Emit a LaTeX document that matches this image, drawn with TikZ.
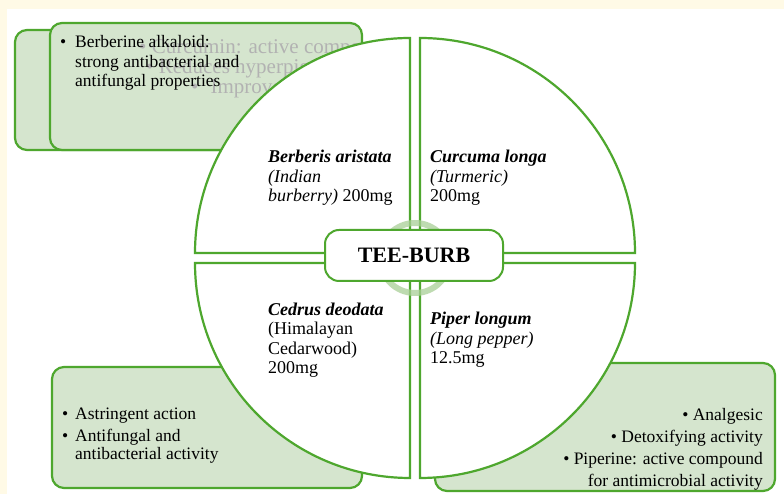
\documentclass[tikz,border=0pt]{standalone}
\usepackage{fontspec}
\setmainfont{Liberation Serif}
\definecolor{cream}{HTML}{FFFAE6}
\definecolor{gr}{HTML}{4EA72E}
\definecolor{lg}{HTML}{D5E5CE}
\definecolor{ringc}{HTML}{A9CF97}
\tikzset{
  gline/.style={draw=gr, line width=2.2pt},
  boxfill/.style={gline, fill=lg, rounded corners=12pt},
  quad/.style={gline, fill=white},
  lbl/.style={font=\fontsize{18}{19.5}\selectfont, align=left, inner sep=0pt, anchor=base west},
  txt/.style={font=\fontsize{17.5}{19.5}\selectfont, align=left, inner sep=0pt, anchor=base west},
  ghost/.style={font=\fontsize{21}{24}\selectfont, text=black!30, inner sep=0pt, anchor=base west}
}
\begin{document}
\begin{tikzpicture}[x=1pt,y=1pt]
\fill[cream] (0,0) rectangle (784,494);
\fill[white] (7,0) rectangle (784,485);
\useasboundingbox (0,0) rectangle (784,494);
% side boxes
\draw[boxfill] (15,344) rectangle (300,464);
\draw[boxfill] (50,344) rectangle (362,471);
\draw[boxfill] (52,6) rectangle (362,127);
\draw[boxfill] (435,3) rectangle (775,131);
% faint text behind the top-left box
\begin{scope}
\clip[rounded corners=12pt] (51,345) rectangle (361,470);
\node[ghost] (g1) at (139,440) {\textbullet\ Curcumin: active compound};
\node[ghost] (g2) at (146,420) {\textbullet\ Reduces hyperpigmentation};
\node[ghost] (g3) at (191,400) {\textbullet\hspace{12pt}Improves skin};
\end{scope}
% quadrants
\draw[quad] (410,241) -- (195,241) arc[start angle=180,end angle=90,radius=215] -- cycle;
\draw[quad] (420,241) -- (420,456) arc[start angle=90,end angle=0,radius=215] -- cycle;
\draw[quad] (410,231) -- (410,16) arc[start angle=270,end angle=180,radius=215] -- cycle;
\draw[quad] (420,231) -- (635,231) arc[start angle=0,end angle=-90,radius=215] -- cycle;
% ring and centre
\draw[ringc, line width=6pt, opacity=0.75] (415,236) circle[radius=35];
\node[draw=gr, line width=2pt, fill=white, rounded corners=14pt, minimum width=178pt, minimum height=51pt,
  font=\bfseries\fontsize{22}{24}\selectfont] (tee) at (414,238.5) {TEE-BURB};
% quadrant labels (anchored at the baseline of their last line)
\node[lbl] (qtl) at (268,292) {\textbf{\textit{Berberis aristata}}\\\textit{(Indian}\\\textit{burberry)} 200mg};
\node[lbl] (qtr) at (430,292) {\textbf{\textit{Curcuma longa}}\\\textit{(Turmeric)}\\200mg};
\node[lbl] (qbl) at (268,120) {\textbf{\textit{Cedrus deodata}}\\(Himalayan\\Cedarwood)\\200mg};
\node[lbl] (qbr) at (430,130) {\textbf{\textit{Piper longum}}\\\textit{(Long pepper)}\\12.5mg};
% box texts
\node[txt] (tlb) at (60,446) {\textbullet};
\node[txt] (tlt) at (75,407) {Berberine alkaloid:\\strong antibacterial and\\antifungal properties};
\node[txt] (blb1) at (62,74) {\textbullet};
\node[txt] (blt1) at (75,74) {Astringent action};
\node[txt] (blb2) at (62,52) {\textbullet};
\node[txt, font=\fontsize{17.5}{18.5}\selectfont] (blt2) at (75,34) {Antifungal and\\antibacterial activity};
\node[txt, align=right, anchor=base east, font=\fontsize{17.5}{22}\selectfont] (brt) at (763,7)
  {\textbullet\ Analgesic\\\textbullet\ Detoxifying activity\\\textbullet\ Piperine: active compound\\for antimicrobial activity};
\end{tikzpicture}
\end{document}
